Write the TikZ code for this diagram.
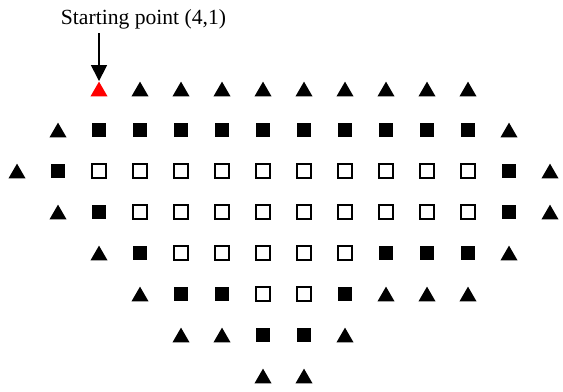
\documentclass[tikz,border=0pt]{standalone}
\usepackage{fontspec}
\setmainfont{Liberation Serif}
\usetikzlibrary{arrows.meta,positioning,shapes.geometric}
\tikzset{
  tri/.style={regular polygon,regular polygon sides=3,fill=black,inner sep=0pt,minimum size=0.48cm,yshift=-0.06cm},
  redtri/.style={tri,fill=red},
  fsq/.style={rectangle,fill=black,inner sep=0pt,minimum size=0.35cm},
  osq/.style={rectangle,draw=black,line width=1.4pt,fill=white,inner sep=0pt,minimum size=0.33cm},
  arr/.style={-{Triangle[width=0.39cm,length=0.39cm]},line width=1.1pt},
  lbl/.style={font=\fontsize{15}{17}\selectfont,inner sep=0pt}
}

\begin{document}
\begin{tikzpicture}
  \useasboundingbox (-0.415,2.171) rectangle (13.317,-7.39);

  % boundary (triangles)
  \foreach \c/\r in {3/0,4/0,5/0,6/0,7/0,8/0,9/0,10/0,11/0,
                     1/1,12/1, 0/2,13/2, 1/3,13/3, 2/4,12/4,
                     3/5,9/5,10/5,11/5, 4/6,5/6,8/6, 6/7,7/7}
    \node[tri] (t-\c-\r) at (\c,-\r) {};
  \node[redtri] (start) at (2,0) {};

  % filled squares
  \foreach \c/\r in {2/1,3/1,4/1,5/1,6/1,7/1,8/1,9/1,10/1,11/1,
                     1/2,12/2, 2/3,12/3, 3/4,9/4,10/4,11/4,
                     4/5,5/5,8/5, 6/6,7/6}
    \node[fsq] (f-\c-\r) at (\c,-\r) {};

  % open squares
  \foreach \c/\r in {2/2,3/2,4/2,5/2,6/2,7/2,8/2,9/2,10/2,11/2,
                     3/3,4/3,5/3,6/3,7/3,8/3,9/3,10/3,11/3,
                     4/4,5/4,6/4,7/4,8/4, 6/5,7/5}
    \node[osq] (o-\c-\r) at (\c,-\r) {};

  \node[lbl] (label) at (3.085,1.695) {Starting point (4,1)};
  \coordinate (tail) at (2,1.366);
  \draw[arr] (tail) -- (start.north);
\end{tikzpicture}
\end{document}
